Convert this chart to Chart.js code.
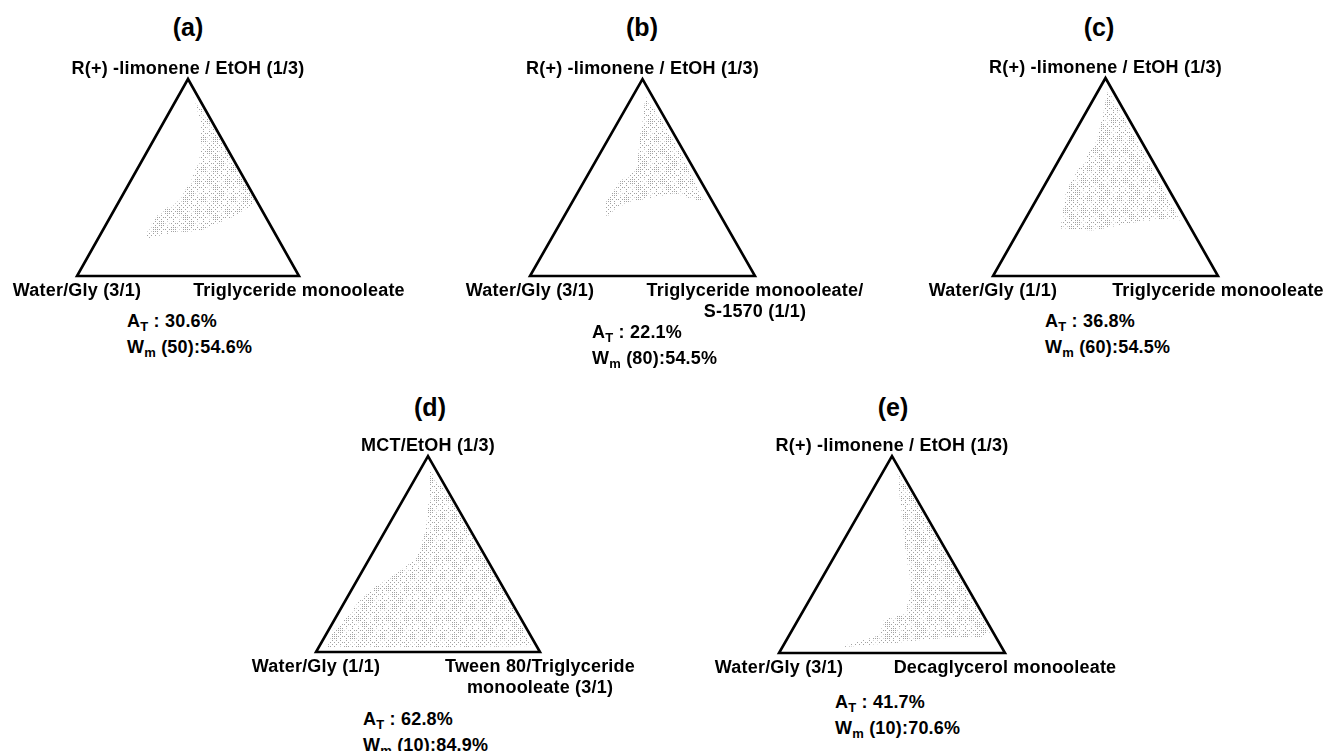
<!DOCTYPE html>
<html><head><meta charset="utf-8">
<script src="https://cdn.jsdelivr.net/npm/chart.js@4.4.1/dist/chart.umd.min.js"></script>
<style>
html,body{margin:0;padding:0;background:#fff;}
#stage{position:relative;width:1327px;height:751px;overflow:hidden;background:#fff;font-family:"Liberation Sans",Arial,Helvetica,sans-serif;font-weight:bold;color:#000;}
#stage canvas{position:absolute;}
.lbl{position:absolute;white-space:nowrap;font-size:18px;line-height:21px;letter-spacing:0.2px;text-align:center;transform:translateX(-50%);}
.ttl{position:absolute;white-space:nowrap;font-size:25px;line-height:28px;transform:translate(-50%,-50%);}
.stat{position:absolute;white-space:nowrap;font-size:18px;line-height:25.5px;letter-spacing:0.2px;}
.stat sub{font-size:13px;vertical-align:-4px;line-height:0;}
</style></head>
<body><div id="stage"></div>
<script>
// ---------- data ----------
const panelTitles = ['(a)', '(b)', '(c)', '(d)', '(e)'];
const topLabels = ['R(+) -limonene / EtOH (1/3)', 'R(+) -limonene / EtOH (1/3)', 'R(+) -limonene / EtOH (1/3)', 'MCT/EtOH (1/3)', 'R(+) -limonene / EtOH (1/3)'];
const leftLabels = ['Water/Gly (3/1)', 'Water/Gly (3/1)', 'Water/Gly (1/1)', 'Water/Gly (1/1)', 'Water/Gly (3/1)'];
const rightLabels = [['Triglyceride monooleate'], ['Triglyceride monooleate/', 'S-1570 (1/1)'], ['Triglyceride monooleate'], ['Tween 80/Triglyceride', 'monooleate (3/1)'], ['Decaglycerol monooleate']];
const atValues = [30.6, 22.1, 36.8, 62.8, 41.7];
const wmLevels = [50, 80, 60, 10, 10];
const wmValues = [54.6, 54.5, 54.5, 84.9, 70.6];

// shaded (one-phase) region boundaries, ternary % [left component, right component, top component]
const regionA = [[2,7,91],[1,19,80],[1,39,60],[1,62,37],[15,55,30],[33,44,23],[46,32,22],[59,22,19],[57,20,23],[47,21,32],[34,27,39],[23,27,50],[14,25,61],[5,16,79],[2,7,91]];
const regionB = [[3,6,91],[2,18,80],[2,38,60],[4,58,38],[8,53,39],[15,43,42],[25,35,40],[35,27,38],[42,22,35],[51,19,30],[48,15,37],[36,16,48],[25,20,55],[15,13,72],[5,7,88],[3,6,91]];
const regionC = [[2,4,94],[2,18,80],[2,38,60],[3,69,28],[8,63,29],[24,49,27],[44,33,23],[58,18,24],[46,11,43],[34,11,55],[20,12,68],[10,8,82],[4,5,91],[2,4,94]];
const regionD = [[3,4,93],[1,19,80],[1,39,60],[1,59,40],[1,79,20],[2,95,3],[50,48,2],[94,4,2],[87,2,11],[77,5,18],[69,6,25],[56,10,34],[44,16,40],[31,21,48],[20,18,62],[10,11,79],[4,5,91],[3,4,93]];
const regionE = [[2,5,93],[1,19,80],[1,39,60],[1,59,40],[1,89,10],[7,85,8],[16,76,8],[31,62,7],[47,48,5],[70,27,3],[68,28,4],[51,40,9],[45,38,17],[34,46,20],[25,42,33],[18,30,52],[10,18,72],[2,7,91],[2,5,93]];
const regions = [regionA, regionB, regionC, regionD, regionE];

// ---------- layout (pixel placement of each diagram) ----------
const layout = [
  {x0: 77,  yb: 276, w: 222, h: 197, title: [188, 27],  stat: [127, 322]},
  {x0: 530, yb: 276, w: 225, h: 197, title: [642, 27],  stat: [592, 333]},
  {x0: 993, yb: 276, w: 225, h: 198, title: [1099, 27], stat: [1045, 322]},
  {x0: 316, yb: 652, w: 224, h: 196, title: [430, 407], stat: [363, 720]},
  {x0: 779, yb: 653, w: 226, h: 197, title: [893, 407], stat: [835, 703]}
];
const M = 8;

function toXY(t) {
  const s = t[0] + t[1] + t[2];
  const b = t[1] / s, c = t[2] / s;
  return {x: b + c / 2, y: c};
}
const triangleOutline = [[100,0,0],[0,100,0],[0,0,100],[100,0,0],[0,100,0]];

// stippled screen-tone texture: hand-laid 5x5 patch map (0 dense, 1 sparse, 2 faint, 3 medium)
const patchMap = [
  0, 2, 1, 3, 1,
  3, 1, 0, 2, 0,
  1, 3, 2, 1, 3,
  2, 0, 3, 0, 1,
  1, 3, 1, 2, 0
];
function makePattern() {
  const N = 30;
  const c = document.createElement('canvas');
  c.width = N; c.height = N;
  const g = c.getContext('2d');
  for (let j = 0; j < N; j += 2) {
    for (let i = 0; i < N; i += 2) {
      const a = i / 2, b = j / 2;
      const t = patchMap[Math.floor(b / 3) * 5 + Math.floor(a / 3)];
      const par = (a + b) % 2, sub = (a % 3) + (b % 3);
      let on = false, col = '#a2a2a2';
      if (t === 0) on = true;
      else if (t === 3) on = par === 0;
      else if (t === 1) on = sub === 1 || sub === 3;
      else { on = par === 0; col = '#d2d2d2'; }
      if (on) { g.fillStyle = col; g.fillRect(i, j, 1, 1); }
    }
  }
  return g.createPattern(c, 'repeat');
}

const stage = document.getElementById('stage');
function addDiv(cls, html, left, top) {
  const d = document.createElement('div');
  d.className = cls; d.innerHTML = html;
  d.style.left = left + 'px'; d.style.top = top + 'px';
  stage.appendChild(d);
  return d;
}

layout.forEach((L, i) => {
  const cv = document.createElement('canvas');
  const cw = L.w + 2 * M, ch = L.h + 2 * M;
  const cl = L.x0 - M, ct = L.yb - L.h - M;
  cv.width = cw; cv.height = ch;
  cv.style.width = cw + 'px'; cv.style.height = ch + 'px';
  cv.style.left = cl + 'px'; cv.style.top = ct + 'px';
  stage.appendChild(cv);
  const chart = new Chart(cv.getContext('2d'), {
    type: 'line',
    data: {
      datasets: [
        {data: triangleOutline.map(toXY), borderColor: '#000', borderWidth: 2.6, borderJoinStyle: 'miter', borderCapStyle: 'butt', pointRadius: 0, fill: false, tension: 0, clip: false},
        {data: regions[i].map(toXY), borderColor: 'rgba(0,0,0,0)', borderWidth: 0, backgroundColor: makePattern(), pointRadius: 0, fill: 'shape', tension: 0}
      ]
    },
    options: {
      responsive: false, animation: false, devicePixelRatio: 1,
      layout: {padding: 0},
      events: [],
      scales: {
        x: {type: 'linear', display: false, min: -M / L.w, max: 1 + M / L.w},
        y: {type: 'linear', display: false, min: -M / L.h, max: 1 + M / L.h}
      },
      plugins: {legend: {display: false}, tooltip: {enabled: false}}
    }
  });
  const xs = chart.scales.x, ys = chart.scales.y;
  const px = v => cl + xs.getPixelForValue(v);
  const py = v => ct + ys.getPixelForValue(v);
  addDiv('ttl', panelTitles[i], L.title[0], L.title[1]);
  addDiv('lbl', topLabels[i], px(0.5), py(1) - 11 - 10.5);
  addDiv('lbl', leftLabels[i], px(0), py(0) + 14 - 10.5);
  addDiv('lbl', rightLabels[i].join('<br>'), px(1), py(0) + 14 - 10.5);
  addDiv('stat', 'A<sub>T</sub> : ' + atValues[i].toFixed(1) + '%<br>W<sub>m</sub> (' + wmLevels[i] + '):' + wmValues[i].toFixed(1) + '%', L.stat[0], L.stat[1] - 12.75);
});
</script>
</body></html>
